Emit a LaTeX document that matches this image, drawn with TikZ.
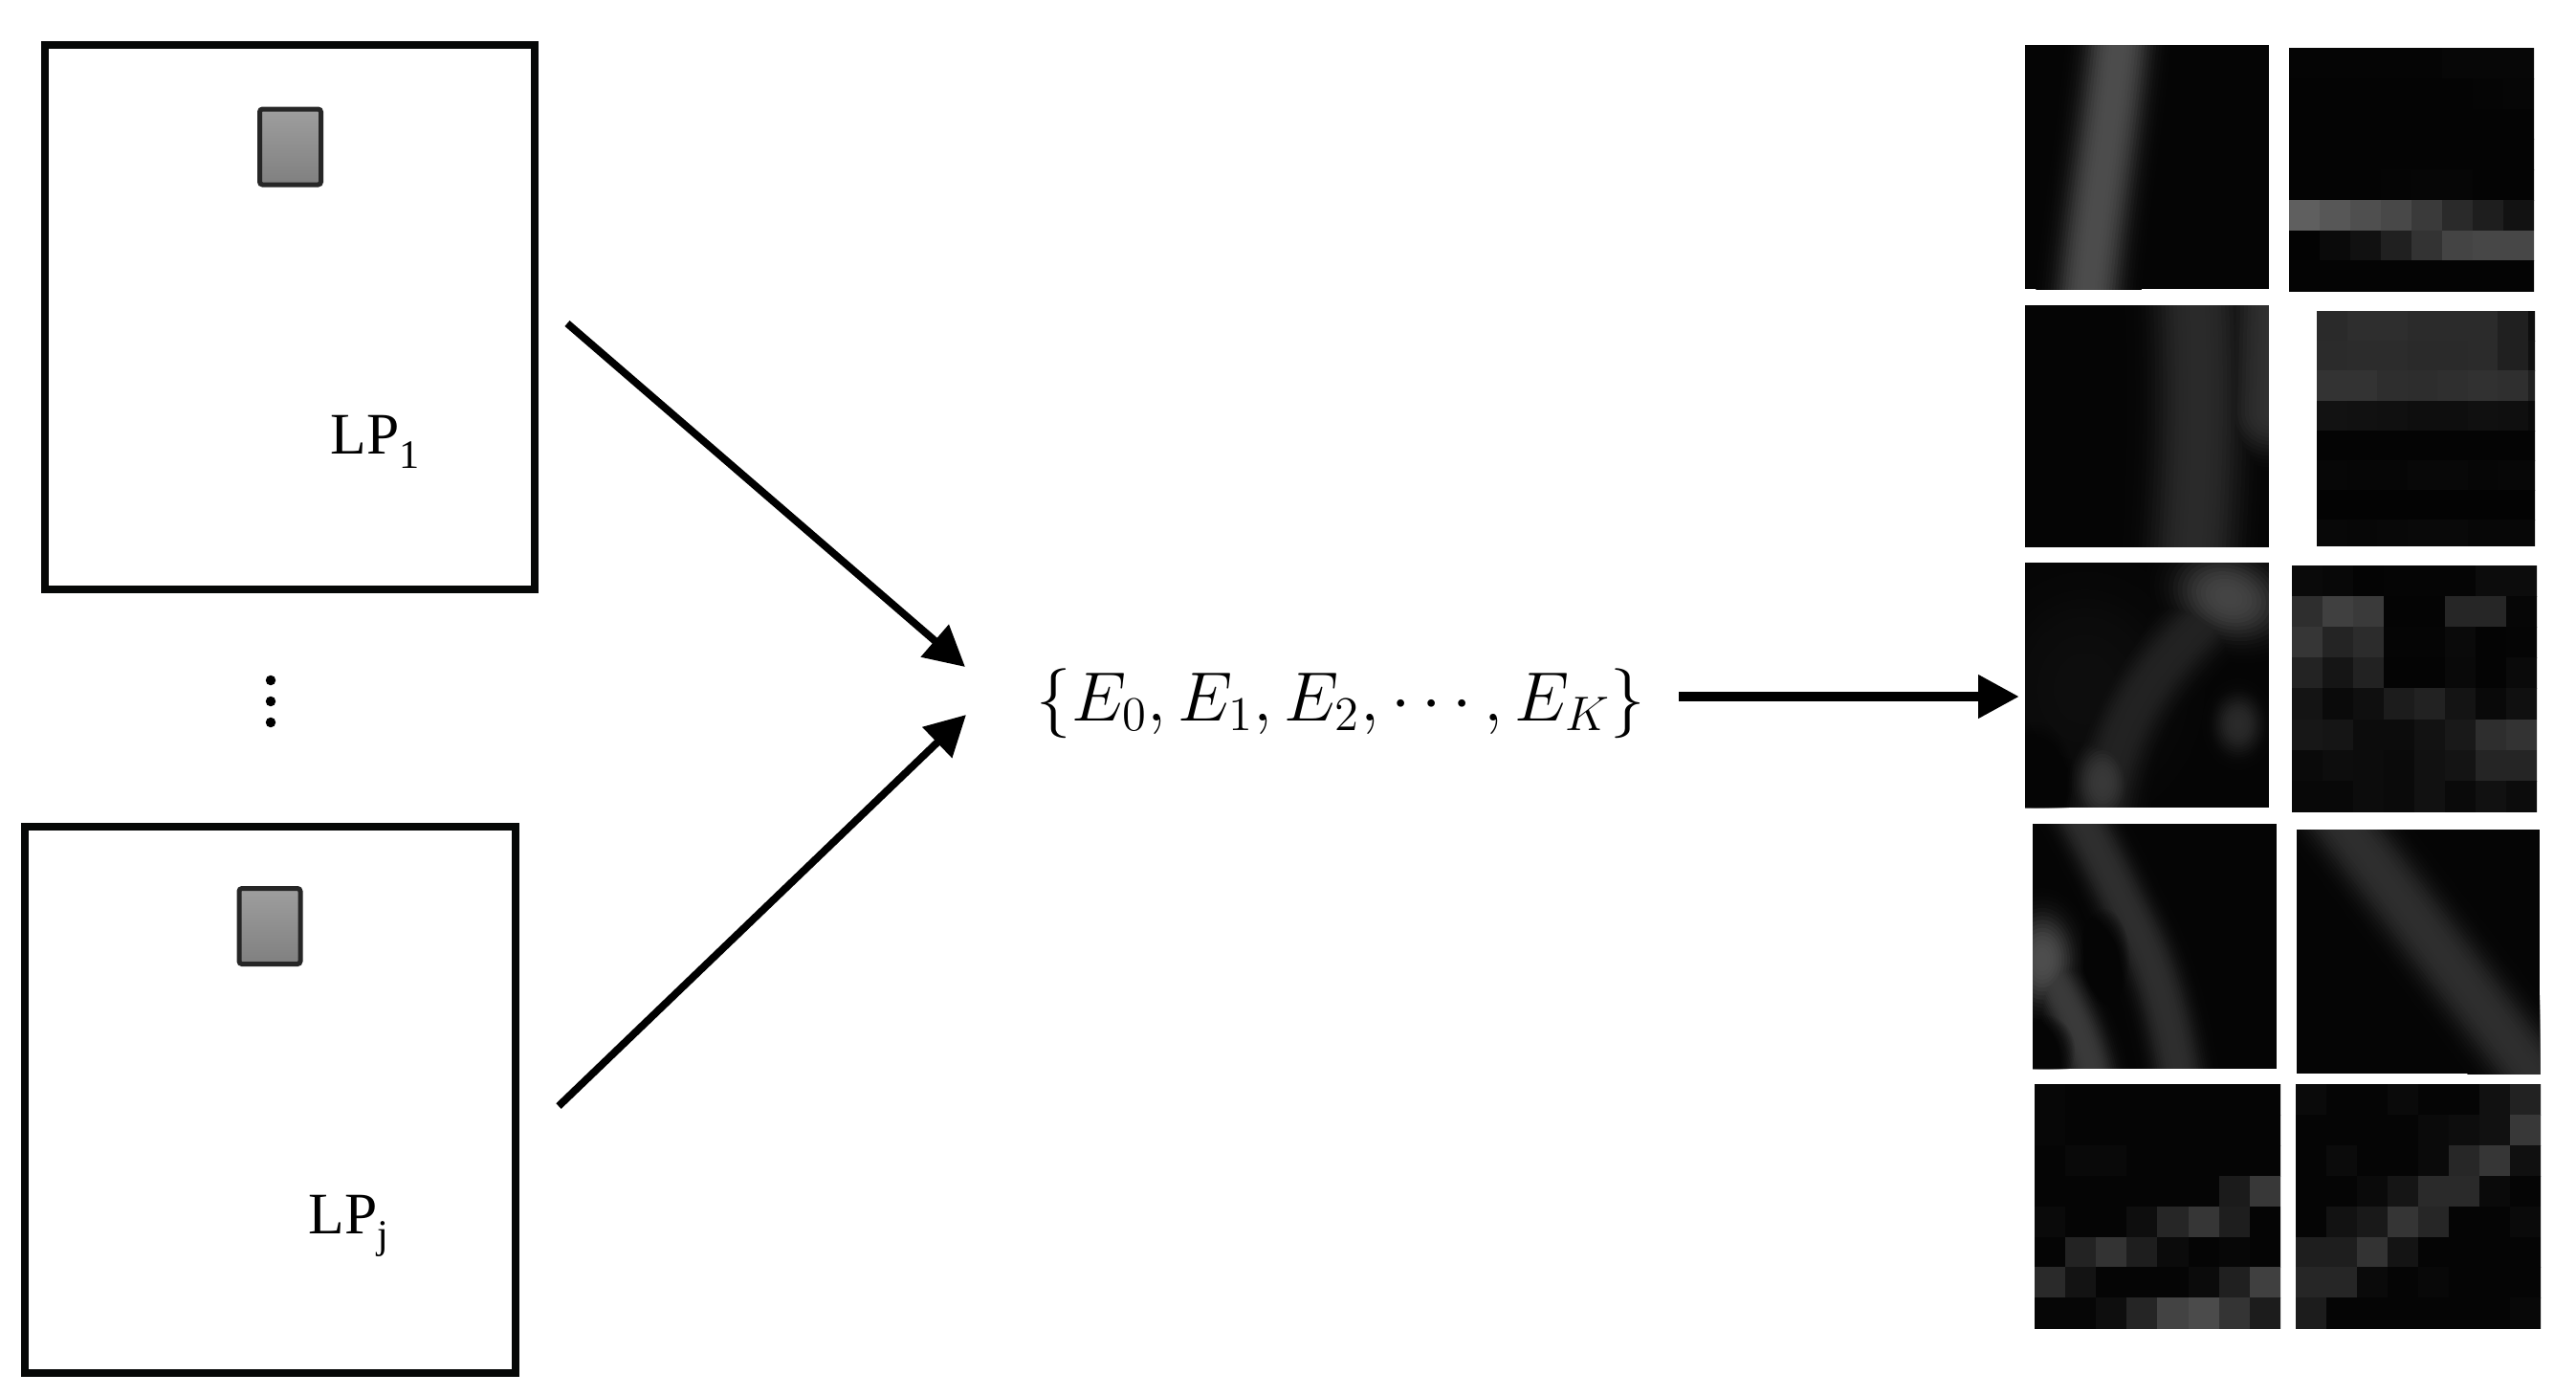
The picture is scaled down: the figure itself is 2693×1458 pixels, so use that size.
\documentclass[tikz,border=0pt]{standalone}
\usepackage{fontspec}
\setmainfont{Liberation Serif}
\usetikzlibrary{arrows.meta}
\definecolor{ink}{HTML}{060807}
\definecolor{tbg}{HTML}{050505}
\definecolor{pk4c}{HTML}{4C4C4C}
\definecolor{pk2a}{HTML}{2A2A2A}
\definecolor{pk2c}{HTML}{2C2C2C}
\definecolor{pk30}{HTML}{303030}
\definecolor{pk22}{HTML}{222222}
\definecolor{pk44}{HTML}{444444}
\definecolor{pk38}{HTML}{383838}
\definecolor{pk0c}{HTML}{0D0D0D}
\definecolor{pk2e}{HTML}{2E2E2E}
\definecolor{pk3a}{HTML}{3A3A3A}
\definecolor{pk4d}{HTML}{4D4D4D}

% soft glowing stroke: #1 total width (px), #2 peak colour, #3 path
\newcommand\glowline[3]{%
  \foreach \gi in {0,...,17}{%
    \pgfmathsetmacro\gw{#1*(1-\gi/18)*0.1}%
    \pgfmathsetmacro\gp{100*exp(-(1.6*(1-\gi/18))^3)}%
    \draw[line width=\gw mm, color=#2!\gp!tbg, line cap=round, line join=round] #3;
  }}
% soft blob: #1 centre, #2 rx, #3 ry (px), #4 peak colour, #5 rotation
\newcommand\glowdot[5]{%
  \foreach \gi in {0,...,17}{%
    \pgfmathsetmacro\gf{1-\gi/18}%
    \pgfmathsetmacro\grx{#2*\gf*0.1}%
    \pgfmathsetmacro\gry{#3*\gf*0.1}%
    \pgfmathsetmacro\gp{100*exp(-(1.6*\gf)^3)}%
    \fill[color=#4!\gp!tbg, rotate around={#5:#1}] #1 ellipse (\grx mm and \gry mm);
  }}
% soft dark spot: #1 centre, #2 rx, #3 ry (px)
\newcommand\darkdot[3]{%
  \foreach \gi in {0,...,19}{%
    \pgfmathsetmacro\gf{1-\gi/20}%
    \pgfmathsetmacro\grx{#2*\gf*0.1}%
    \pgfmathsetmacro\gry{#3*\gf*0.1}%
    \fill[tbg, opacity=0.09] #1 ellipse (\grx mm and \gry mm);
  }}
% pixel grid: #1 x0, #2 y0, #3 cell w, #4 cell h, #5 rows of grey values 0-255
\newcommand\pixgrid[5]{%
  \foreach \prow [count=\pr from 0] in {#5}{%
    \foreach \pv [count=\pc from 0] in \prow {%
      \pgfmathsetmacro\pg{\pv/255}%
      \definecolor{pixc}{gray}{\pg}%
      \fill[pixc] ({#1+\pc*#3},{#2+\pr*#4}) rectangle ++({#3+0.8},{#4+0.8});
    }}}

\begin{document}
\begin{tikzpicture}[x=0.1mm,y=-0.1mm,
  lpbox/.style={draw=ink, line width=0.85mm, inner sep=0pt},
  chip/.style={draw=black!85, line width=0.5mm, top color=black!38, bottom color=black!50,
    rounded corners=0.3mm, inner sep=0pt, minimum width=6.4mm, minimum height=7.9mm},
  lplabel/.style={font=\fontsize{17.5}{20}\selectfont, inner sep=0pt, anchor=base west},
  arr/.style={draw=black, line width=0.78mm, -{Triangle[length=4.2mm,width=4.3mm]}},
  arrh/.style={draw=black, line width=1.05mm, -{Triangle[length=4.3mm,width=4.3mm]}},
  dotc/.style={fill=black, circle, inner sep=0pt, minimum size=1.05mm}]

\fill[white] (0,0) rectangle (2693,1458);
\useasboundingbox (0,0) rectangle (2693,1458);

% ---- left boxes ----
\node[lpbox, minimum width=51.2mm, minimum height=56.9mm] (lp1) at (303,331.5) {};
\node[chip] (chip1) at (303.5,153.5) {};
\node[lplabel] (lab1) at (345,474) {LP\raisebox{-1.5mm}{\fontsize{12}{14}\selectfont 1}};

\node[dotc] (d1) at (283,711) {};
\node[dotc] (d2) at (283,733) {};
\node[dotc] (d3) at (283,755) {};

\node[lpbox, minimum width=51.3mm, minimum height=57.1mm] (lpj) at (282.5,1149.5) {};
\node[chip] (chipj) at (282,968) {};
\node[lplabel] (labj) at (322,1289) {LP\raisebox{-1.5mm}{\fontsize{12}{14}\selectfont j}};

% ---- set ----
\node[anchor=base, inner sep=0pt, font=\fontsize{20}{24}\selectfont] (set) at (1402,753)
  {$\{E_0,E_1,E_2,\cdots,E_K\}$};

% ---- arrows ----
\coordinate (a1s) at (593,338);
\coordinate (a1e) at (1009,697);
\coordinate (a2s) at (584,1156);
\coordinate (a2e) at (1010,747);
\coordinate (a3s) at (1755,728);
\coordinate (a3e) at (2111,728);
\draw[arr] (a1s) -- (a1e);
\draw[arr] (a2s) -- (a2e);
\draw[arrh] (a3s) -- (a3e);

% ---- tiles: blurry column ----
\begin{scope}
  \clip (2117,47) rectangle (2372,302);
  \fill[tbg] (2117,47) rectangle (2372,302);
  \glowline{110}{pk4c}{(2216,30) .. controls (2206,140) and (2190,220) .. (2182,320)}
\end{scope}

\begin{scope}
  \clip (2117,319) rectangle (2372,572);
  \fill[tbg] (2117,319) rectangle (2372,572);
  \begin{scope}[blend mode=lighten]
  \glowline{150}{pk2a}{(2296,300) .. controls (2302,420) and (2298,500) .. (2292,600)}
  \glowline{140}{pk30}{(2378,290) -- (2374,430)}
  \end{scope}
\end{scope}

\begin{scope}
  \clip (2117,588) rectangle (2372,844);
  \fill[tbg] (2117,588) rectangle (2372,844);
  \begin{scope}[blend mode=lighten]
  \glowdot{(2180,720)}{150}{170}{pk0c}{0}
  \glowline{105}{pk22}{(2330,625) .. controls (2270,680) and (2205,740) .. (2195,875)}
  \glowdot{(2330,624)}{90}{66}{pk44}{-20}
  \glowdot{(2198,818)}{45}{68}{pk38}{0}
  \glowdot{(2340,757)}{38}{48}{pk2a}{0}
  \end{scope}
  \darkdot{(2128,815)}{40}{60}
\end{scope}

\begin{scope}
  \clip (2125,861) rectangle (2380,1117);
  \fill[tbg] (2125,861) rectangle (2380,1117);
  \begin{scope}[blend mode=lighten]
  \glowline{85}{pk2e}{(2170,845) .. controls (2200,900) and (2215,935) .. (2232,968) .. controls (2250,1005) and (2266,1050) .. (2280,1135)}
  \glowline{78}{pk3a}{(2137,1005) .. controls (2160,1050) and (2180,1080) .. (2190,1135)}
  \glowdot{(2135,1003)}{52}{75}{pk4d}{0}
  \end{scope}
  \darkdot{(2137,1097)}{32}{36}
  \darkdot{(2200,1000)}{26}{50}
\end{scope}

\begin{scope}
  \clip (2401,867) rectangle (2655,1122);
  \fill[tbg] (2401,867) rectangle (2655,1122);
  \glowline{110}{pk2e}{(2441,850) -- (2662,1140)}
\end{scope}

% ---- tiles: pixel grids ----
\begin{scope}
  \clip (2393,50) rectangle (2649,304);
  \pixgrid{2393}{50}{32}{31.75}{{5,5,5,5,5,7,7,7},{4,4,4,4,4,4,5,6},{4,4,4,4,4,4,4,4},{4,4,4,4,4,4,4,4},{4,4,4,5,6,6,4,4},{95,87,79,72,58,42,30,18},{3,10,17,32,51,68,71,71},{4,4,4,4,4,4,4,4}}
\end{scope}

\begin{scope}
  \clip (2422,325) rectangle (2650,570);
  \pixgrid{2422}{325}{31.5}{31.2}{{42,46,46,43,43,43,32,14},{43,44,44,42,42,43,32,16},{51,51,46,45,47,49,47,32},{18,17,16,14,14,16,15,10},{4,4,4,4,4,4,4,4},{7,6,6,8,8,6,7,7},{3,3,3,3,3,3,3,3},{8,7,8,9,9,7,7,7}}
\end{scope}

\begin{scope}
  \clip (2396,591) rectangle (2652,848);
  \pixgrid{2396}{591}{32}{32.1}{{10,8,4,5,5,5,12,12},{46,64,58,4,4,38,38,6},{54,36,44,5,5,10,4,5},{35,21,34,4,4,9,4,10},{20,10,15,28,34,20,9,16},{23,21,12,12,18,25,46,51},{10,13,12,10,17,20,37,37},{8,8,12,10,17,10,17,12}}
\end{scope}

\begin{scope}
  \clip (2127,1133) rectangle (2384,1388);
  \pixgrid{2127}{1133}{32.1}{31.9}{{7,5,5,5,5,5,5,5},{7,5,5,5,5,5,5,5},{5,9,9,5,5,5,5,5},{5,5,5,5,5,5,27,56},{10,5,5,14,38,54,30,5},{5,35,51,30,11,5,7,5},{42,19,5,5,5,11,32,64},{6,6,14,37,67,75,52,28}}
\end{scope}

\begin{scope}
  \clip (2400,1133) rectangle (2656,1388);
  \pixgrid{2400}{1133}{32}{31.9}{{10,5,5,10,5,5,17,34},{5,5,5,5,10,13,17,56},{5,11,5,5,10,39,54,16},{5,5,10,21,42,42,10,5},{5,18,25,53,38,5,5,10},{30,30,51,20,5,5,5,5},{38,38,10,5,8,5,5,5},{28,5,5,5,5,5,5,8}}
\end{scope}

\end{tikzpicture}
\end{document}
